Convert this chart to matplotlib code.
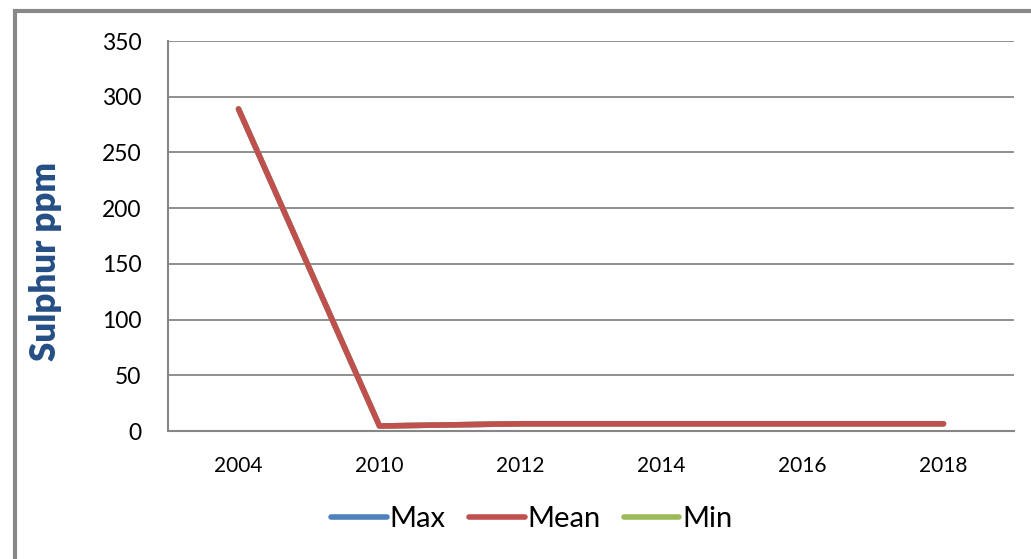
import matplotlib.pyplot as plt
import matplotlib.patches as patches
import numpy as np

# data
years = ['2004', '2010', '2012', '2014', '2016', '2018']
mean_vals = [289, 4.5, 6.5, 6.5, 6.5, 6.5]
max_vals = [289, 4.5, 6.5, 6.5, 6.5, 6.5]   # hidden under the Mean line
min_vals = [289, 4.5, 6.5, 6.5, 6.5, 6.5]   # hidden under the Mean line
y_ticks = [0, 50, 100, 150, 200, 250, 300, 350]

plt.rcParams['font.family'] = ['Lato', 'DejaVu Sans']

fig = plt.figure(figsize=(10.31, 5.59), dpi=100)
ax = fig.add_axes([168 / 1031, 1 - 431 / 559, (1014 - 168) / 1031, (431 - 41) / 559])

x = np.arange(len(years))
ax.plot(x, max_vals, color='#4F81BD', lw=4, solid_capstyle='round', label='Max', zorder=2)
ax.plot(x, min_vals, color='#9BBB59', lw=4, solid_capstyle='round', label='Min', zorder=2)
ax.plot(x, mean_vals, color='#C0504D', lw=4, solid_capstyle='round', label='Mean', zorder=3)

ax.set_xlim(-0.5, len(years) - 0.5)
ax.set_ylim(0, 350)
ax.set_xticks(x)
ax.set_xticklabels(years, fontsize=15)
ax.set_yticks(y_ticks)
ax.set_yticklabels([str(v) for v in y_ticks], fontsize=16.5)
ax.tick_params(axis='both', length=0)
ax.tick_params(axis='y', pad=19)
ax.tick_params(axis='x', pad=18)

ax.grid(axis='y', color='#868686', lw=1.3)
ax.set_axisbelow(True)
for s in ['top', 'right']:
    ax.spines[s].set_visible(False)
for s in ['left', 'bottom']:
    ax.spines[s].set_color('#868686')
    ax.spines[s].set_linewidth(1.5)

fig.text(45 / 1031, 1 - 261 / 559, 'Sulphur ppm', rotation=90, ha='center', va='center',
         fontsize=25, fontweight='heavy', color='#254F85')

# legend in Max / Mean / Min order
h, l = ax.get_legend_handles_labels()
order = [0, 2, 1]
fig.legend([h[i] for i in order], [l[i] for i in order], loc='center',
           bbox_to_anchor=(532 / 1031, 1 - 519 / 559), ncol=3, frameon=False,
           fontsize=21, handlelength=1.9, handletextpad=0.1, columnspacing=0.8)

# outer chart border (cut off at right and bottom)
fig.patches.append(patches.Rectangle((15 / 1031, -0.1), 1.1, 1 - 11 / 559 + 0.1,
                                     transform=fig.transFigure, fill=False,
                                     edgecolor='#888888', lw=3))

fig.savefig('out.png', dpi=100)
